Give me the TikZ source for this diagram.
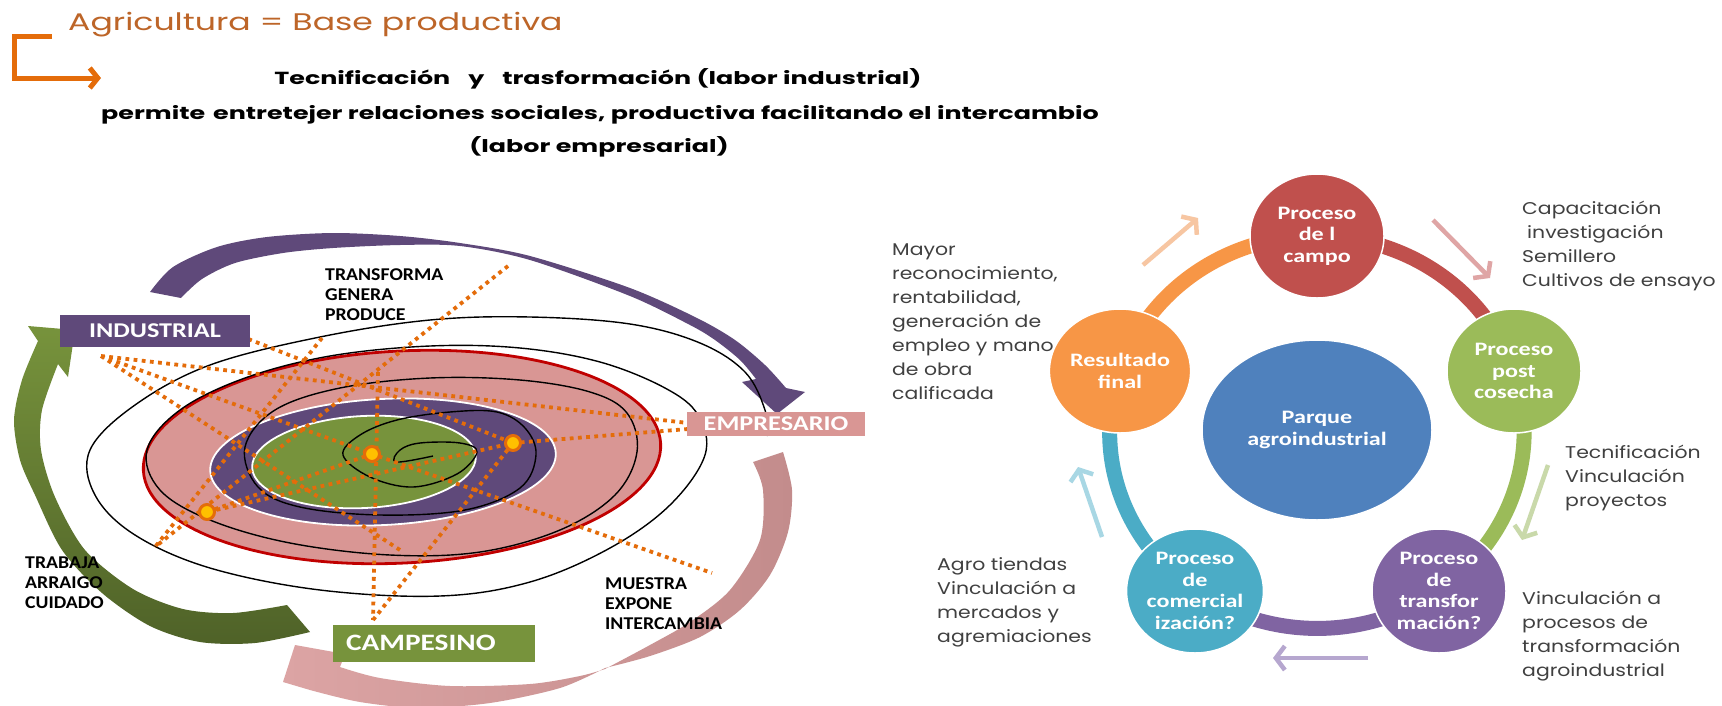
\documentclass[tikz,border=0pt]{standalone}
\usepackage{fontspec}
\setmainfont{Poppins}
\newfontfamily\titlefont[FakeStretch=1.38]{Poppins}
\newfontfamily\leadfont[FakeStretch=1.45]{Poppins}
\newfontfamily\notefont[FakeStretch=1.2]{Poppins}
\newfontfamily\tagfont[FakeStretch=1.25]{Carlito}
\newfontfamily\verbfont[FakeStretch=1.1]{Carlito}
\newfontfamily\procfont[FakeStretch=1.27]{Carlito}
\usetikzlibrary{arrows.meta,shapes.geometric}
\definecolor{orng}{HTML}{E46C0A}
\definecolor{brwn}{HTML}{BD6528}
\definecolor{purp}{HTML}{5F497A}
\definecolor{rosa}{HTML}{D99694}
\definecolor{rosaA}{HTML}{DCA4A4}
\definecolor{rosaB}{HTML}{C38C8C}
\definecolor{verde}{HTML}{77933C}
\definecolor{verdeosc}{HTML}{4F6228}
\definecolor{rojo}{HTML}{C00000}
\definecolor{amar}{HTML}{FFC000}
\definecolor{gris}{HTML}{404040}
\definecolor{pRed}{HTML}{C0504D}
\definecolor{pGreen}{HTML}{9BBB59}
\definecolor{pPurp}{HTML}{8064A2}
\definecolor{pTeal}{HTML}{4BACC6}
\definecolor{pOrng}{HTML}{F79646}
\definecolor{pBlue}{HTML}{4F81BD}
\definecolor{hPeach}{HTML}{F7C6A2}
\definecolor{hRose}{HTML}{DFA5A5}
\definecolor{hGreen}{HTML}{C9D9AA}
\definecolor{hPurp}{HTML}{B6A7CF}
\definecolor{hTeal}{HTML}{A8D7E4}

\begin{document}
\begin{tikzpicture}[x=1pt,y=-1pt,line join=round,
 title/.style={font=\titlefont\fontsize{24}{28}\selectfont,text=brwn,anchor=west,inner sep=0pt},
 lead/.style={font=\leadfont\bfseries\fontsize{17.5}{21}\selectfont,inner sep=0pt},
 tag/.style={font=\tagfont\bfseries\fontsize{21}{24}\selectfont,text=white,inner sep=0pt},
 verbs/.style={font=\verbfont\bfseries\fontsize{18}{20}\selectfont,align=left,anchor=north west,inner sep=0pt},
 dotline/.style={draw=orng,line width=3.8pt,dash pattern=on 3.8pt off 4.4pt},
 dot/.style={circle,fill=amar,draw=orng,line width=3pt,minimum size=15pt,inner sep=0pt},
 proc/.style={ellipse,draw=white,line width=1.5pt,minimum width=134pt,minimum height=124pt,
  text=white,align=center,inner sep=0pt,font=\procfont\bfseries\fontsize{19}{21.5}\selectfont},
 ring/.style={line width=15pt},
 note/.style={font=\notefont\fontsize{17}{24}\selectfont,text=gris,align=left,anchor=west,inner sep=0pt},
 hint/.style={line width=4.5pt,-{Straight Barb[length=9pt,width=24pt]}}]
\useasboundingbox (0,0) rectangle (1722,705);
\fill[white] (0,0) rectangle (1722,705);

\node[title] (t0) at (68,25) {Agricultura = Base productiva};
\coordinate (e0) at (52,36);
\coordinate (e1) at (14,36);
\coordinate (e2) at (14,78);
\coordinate (e3) at (101,78);
\draw[orng,line width=5pt,line join=miter,-{Straight Barb[length=8pt,width=20pt]}] (e0) -- (e1) -- (e2) -- (e3);
\node[lead] (t1) at (598,79) {Tecnificación\hspace{18pt}y\hspace{18pt}trasformación (labor industrial)};
\node[lead] (t2) at (600,115) {permite\hspace{8pt}entretejer relaciones sociales, productiva facilitando el intercambio};
\node[lead] (t3) at (599,147) {(labor empresarial)};

\fill[purp] plot[smooth] coordinates {(150,292) (173,267) (217,247) (267,237) (333,233) (400,236)
 (460,243) (530,256) (630,288) (697,318) (735,340) (765,365) (786,388)} -- (805,392) -- (777,414)
 -- (742,382) -- plot[smooth] coordinates {(756,379) (740,360) (715,340) (690,325) (630,296)
 (530,260) (460,246) (400,245) (333,248) (283,253) (235,263) (202,279) (181,298)} -- cycle;
\path[top color=verde,bottom color=verdeosc] (75,330) -- (28,326) -- plot[smooth] coordinates {(38,341)
 (22,380) (14,420) (20,460) (35,495) (62,550) (102,593) (150,626) (200,642) (255,643) (310,632)}
 -- plot[smooth] coordinates {(287,605) (233,613) (183,609) (133,589) (85,550) (55,497) (41,450)
 (42,410) (58,364)} -- (68,377) -- cycle;
\path[left color=rosaA,right color=rosaB] plot[smooth] coordinates {(783,452) (792,490) (788,532)
 (770,575) (740,610) (700,637) (650,656) (605,668)} -- plot[smooth] coordinates {(605,668) (560,688)
 (490,703) (420,708) (360,702) (310,690)} -- (283,682) -- (295,645) -- (345,654) -- plot[smooth]
 coordinates {(340,667) (380,678) (450,686) (530,684) (580,676) (605,669)} -- plot[smooth]
 coordinates {(605,669) (650,645) (690,622) (730,590) (760,540) (763,490) (753,462)} -- cycle;

\fill[rosa,draw=rojo,line width=2.8pt,rotate around={3:(402,457)}] (402,457) ellipse[x radius=259,y radius=106];
\fill[purp,draw=white,line width=1.8pt,rotate around={3:(383,462)}] (383,462) ellipse[x radius=173,y radius=63];
\fill[verde,draw=white,line width=1.8pt,rotate around={3:(364,462)}] (364,462) ellipse[x radius=112,y radius=46];
\draw[line width=1.4pt] plot[smooth,tension=0.6] coordinates {(767,436) (765,410) (745,372) (700,343)
 (630,324) (530,317) (430,320) (320,337) (210,365) (135,405) (90,450) (95,495) (135,535) (210,568)
 (320,590) (440,596) (530,582) (610,548) (670,505) (705,455) (698,415) (665,388) (600,362) (520,348)
 (430,346) (330,356) (245,378) (180,410) (147,450) (160,490) (210,520) (290,543) (390,555) (480,552)
 (560,530) (615,495) (637,452) (627,413) (590,392) (520,380) (430,378) (340,388) (275,410) (245,447)
 (258,487) (300,507) (380,515) (465,510) (520,488) (536,455) (525,428) (497,412) (450,412) (397,420)
 (360,435) (343,455) (370,477) (413,487) (457,474) (477,452) (460,443) (420,443) (400,450) (396,462)
 (433,456)};

\coordinate (i1) at (233,333);
\coordinate (i2) at (101,356);
\coordinate (tt) at (508,266);
\coordinate (pr) at (322,338);
\coordinate (cm) at (373,620);
\coordinate (mu) at (712,573);
\coordinate (lo) at (155,547);
\coordinate (vt) at (378,372);
\coordinate (st) at (400,550);
\coordinate (g1) at (688,423);
\coordinate (g2) at (688,429);
\coordinate (q1) at (372,454);
\coordinate (q2) at (513,443);
\coordinate (q3) at (207,512);
\draw[dotline] (i1) -- (q2) (i2) -- (g1) (i2) -- (q1) -- (mu) (g2) -- (q2) -- (q3) (tt) -- (lo)
 (pr) -- (lo) (vt) -- (cm) (cm) -- (q2) (q3) -- (q1) (i2) -- (st);
\node[dot] (d1) at (q1) {};
\node[dot] (d2) at (q2) {};
\node[dot] (d3) at (q3) {};

\node[tag,fill=purp,minimum width=190pt,minimum height=32pt] (ind) at (155,331) {INDUSTRIAL};
\node[tag,fill=rosa,minimum width=178pt,minimum height=24pt] (emp) at (776,424) {EMPRESARIO};
\node[tag,fill=verde,text width=176pt,inner xsep=13pt,minimum height=37pt,align=left,
 font=\tagfont\bfseries\fontsize{23.5}{26}\selectfont] (cam) at (434,643) {CAMPESINO};
\node[verbs] (v1) at (325,268) {TRANSFORMA\\GENERA\\PRODUCE};
\node[verbs] (v2) at (25,557) {TRABAJA\\ARRAIGO\\CUIDADO};
\node[verbs] (v3) at (605,577) {MUESTRA\\EXPONE\\INTERCAMBIA};

\coordinate (c1) at (1317,236);
\coordinate (c2) at (1514,371);
\coordinate (c3) at (1439,591);
\coordinate (c4) at (1195,591);
\coordinate (c5) at (1120,371);
\draw[ring,pRed] (c1) arc[start angle=-90,end angle=-18,x radius=207,y radius=196];
\draw[ring,pGreen] (c2) arc[start angle=-18,end angle=54,x radius=207,y radius=196];
\draw[ring,pPurp] (c3) arc[start angle=54,end angle=126,x radius=207,y radius=196];
\draw[ring,pTeal] (c4) arc[start angle=126,end angle=198,x radius=207,y radius=196];
\draw[ring,pOrng] (c5) arc[start angle=198,end angle=270,x radius=207,y radius=196];
\node[proc,fill=pBlue,minimum width=230pt,minimum height=180pt] (pq) at (1317,430) {Parque\\agroindustrial};
\node[proc,fill=pRed] (p1) at (c1) {Proceso\\de l\\campo};
\node[proc,fill=pGreen] (p2) at (c2) {Proceso\\post\\cosecha};
\node[proc,fill=pPurp] (p3) at (c3) {Proceso\\de\\transfor\\mación?};
\node[proc,fill=pTeal] (p4) at (c4) {Proceso\\de\\comercial\\ización?};
\node[proc,fill=pOrng] (p5) at (c5) {Resultado\\final};

\coordinate (h1) at (1143,265);
\coordinate (h2) at (1198,218);
\coordinate (h3) at (1433,220);
\coordinate (h4) at (1490,278);
\coordinate (h5) at (1548,465);
\coordinate (h6) at (1522,540);
\coordinate (h7) at (1368,658);
\coordinate (h8) at (1273,658);
\coordinate (h9) at (1102,537);
\coordinate (h10) at (1078,467);
\draw[hint,hPeach] (h1) -- (h2);
\draw[hint,hRose] (h3) -- (h4);
\draw[hint,hGreen] (h5) -- (h6);
\draw[hint,hPurp] (h7) -- (h8);
\draw[hint,hTeal] (h9) -- (h10);

\node[note] (n1) at (892,322) {Mayor\\reconocimiento,\\rentabilidad,\\generación de\\empleo y mano\\de obra\\calificada};
\node[note] (n2) at (1522,246) {Capacitación\\\hspace*{5pt}investigación\\Semillero\\Cultivos de ensayo};
\node[note] (n3) at (1565,478) {Tecnificación\\Vinculación\\proyectos};
\node[note] (n4) at (1522,636) {Vinculación a\\procesos de\\transformación\\agroindustrial};
\node[note] (n5) at (937,602) {Agro tiendas\\Vinculación a\\mercados y\\agremiaciones};
\end{tikzpicture}
\end{document}
